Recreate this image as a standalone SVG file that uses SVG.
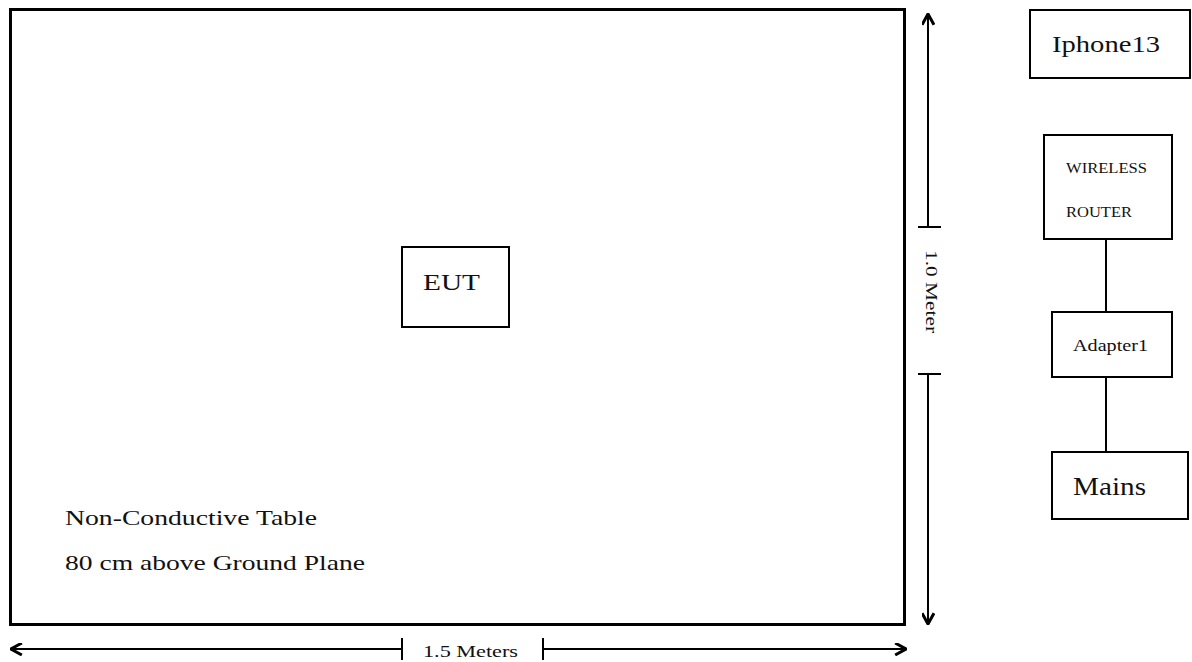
<svg xmlns="http://www.w3.org/2000/svg" width="1192" height="662" viewBox="0 0 1192 662" font-family="'Liberation Serif', 'DejaVu Serif', serif">
<style>
.box{fill:#fff;stroke:#000;stroke-width:2}
.ln{stroke:#000;stroke-width:2;fill:none}
.t{font-family:'Liberation Serif','DejaVu Serif',serif;fill:#111}
</style>
<defs>
<marker id="ah" viewBox="0 0 12 12" refX="11" refY="6" markerWidth="13" markerHeight="13" markerUnits="userSpaceOnUse" orient="auto">
<path d="M1,0.5 L11,6 L1,11.5" fill="none" stroke="#000" stroke-width="2.8"/>
</marker>
</defs>
<rect width="1192" height="662" fill="#fff"/>
<g id="table">
<rect x="10.5" y="9.5" width="894" height="615" fill="#fff" stroke="#000" stroke-width="3"/>
<text class="t" x="65" y="525" font-size="22" textLength="252" lengthAdjust="spacingAndGlyphs">Non-Conductive Table</text>
<text class="t" x="65" y="570" font-size="22" textLength="300" lengthAdjust="spacingAndGlyphs">80 cm above Ground Plane</text>
</g>
<g id="eut">
<rect class="box" x="402" y="247" width="107" height="80"/>
<text class="t" x="423" y="290" font-size="24" textLength="57" lengthAdjust="spacingAndGlyphs">EUT</text>
</g>
<g id="iphone">
<rect class="box" x="1030" y="10" width="160" height="68"/>
<text class="t" x="1052" y="52" font-size="24" textLength="108" lengthAdjust="spacingAndGlyphs">Iphone13</text>
</g>
<g id="router">
<rect class="box" x="1044" y="135" width="128" height="104"/>
<text class="t" x="1066" y="173" font-size="14" textLength="81" lengthAdjust="spacingAndGlyphs">WIRELESS</text>
<text class="t" x="1066" y="217" font-size="14" textLength="66" lengthAdjust="spacingAndGlyphs">ROUTER</text>
</g>
<g id="adapter">
<rect class="box" x="1052" y="312" width="120" height="65"/>
<text class="t" x="1073" y="351" font-size="17" textLength="75" lengthAdjust="spacingAndGlyphs">Adapter1</text>
</g>
<g id="mains">
<rect class="box" x="1052" y="452" width="136" height="67"/>
<text class="t" x="1073" y="495" font-size="25" textLength="73" lengthAdjust="spacingAndGlyphs">Mains</text>
</g>
<g id="connectors">
<line class="ln" x1="1106" y1="239" x2="1106" y2="312"/>
<line class="ln" x1="1106" y1="377" x2="1106" y2="452"/>
<line class="ln" x1="928" y1="227" x2="928" y2="14" marker-end="url(#ah)"/>
<line class="ln" x1="918" y1="227" x2="941" y2="227"/>
<line class="ln" x1="928" y1="374" x2="928" y2="624" marker-end="url(#ah)"/>
<line class="ln" x1="918" y1="374" x2="941" y2="374"/>
<text class="t" transform="translate(926,250) rotate(90)" font-size="17" textLength="83" lengthAdjust="spacingAndGlyphs">1.0 Meter</text>
<line class="ln" x1="402" y1="649" x2="11" y2="649" marker-end="url(#ah)"/>
<line class="ln" x1="402" y1="638" x2="402" y2="660"/>
<line class="ln" x1="543" y1="649" x2="906" y2="649" marker-end="url(#ah)"/>
<line class="ln" x1="543" y1="638" x2="543" y2="660"/>
<text class="t" x="423" y="657" font-size="16" textLength="95" lengthAdjust="spacingAndGlyphs">1.5 Meters</text>
</g>
</svg>
